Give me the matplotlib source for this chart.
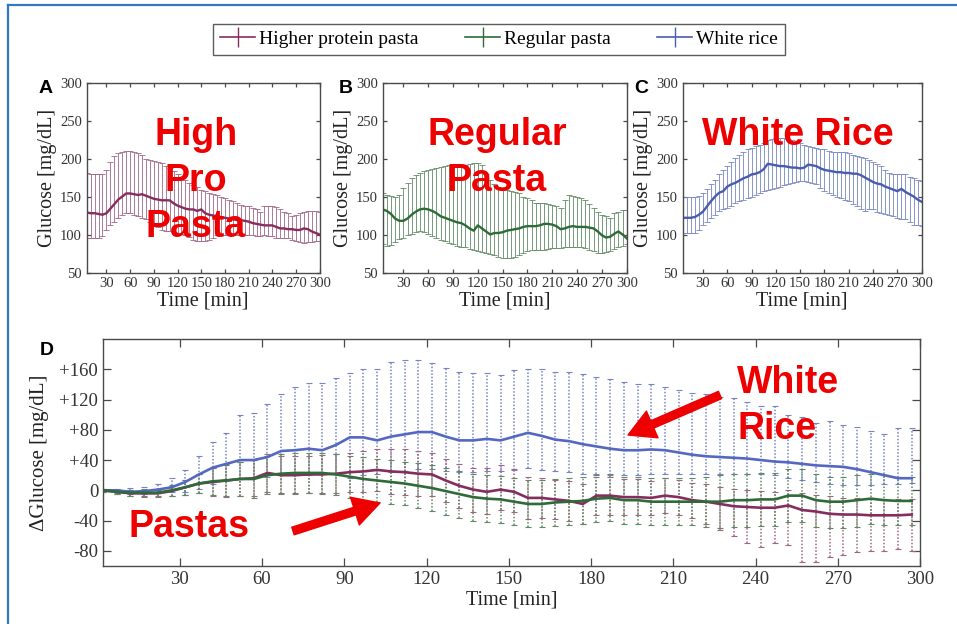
import numpy as np
import matplotlib.pyplot as plt
from matplotlib.lines import Line2D

# ---- glucose curves, panels A-C (mg/dL), sampled every 5 min from 5 to 300 ----
minutes = np.arange(5, 301, 5)

hp_mean = [129, 128, 128, 127, 126, 128, 134, 140, 146, 150,
           154, 154, 153, 152, 153, 151, 149, 147, 146, 145,
           145, 145, 141, 138, 136, 134, 133, 133, 131, 133,
           128, 126, 125, 124, 123, 122, 121, 120, 119, 119,
           118, 117, 115, 114, 113, 112, 112, 112, 110, 108,
           108, 107, 107, 106, 106, 108, 107, 104, 102, 100]
hp_hi = [181, 180, 180, 179, 179, 185, 195, 203, 207, 209,
         210, 210, 208, 207, 204, 200, 198, 197, 196, 194,
         190, 187, 183, 179, 175, 172, 168, 165, 162, 159,
         157, 155, 153, 152, 150, 148, 146, 144, 141, 139,
         138, 137, 135, 133, 130, 137, 138, 138, 136, 133,
         130, 128, 124, 126, 128, 130, 131, 131, 131, 130]
hp_lo = [96, 95, 95, 95, 98, 106, 112, 117, 122, 126,
         128, 128, 126, 124, 122, 120, 116, 113, 110, 106,
         105, 104, 103, 102, 101, 100, 97, 93, 92, 92,
         92, 93, 96, 100, 100, 100, 100, 100, 100, 100,
         100, 100, 99, 98, 98, 99, 98, 98, 96, 95,
         95, 95, 93, 91, 90, 89, 90, 90, 91, 92]

rp_mean = [133, 131, 127, 121, 118, 118, 121, 126, 130, 133,
           134, 133, 131, 128, 124, 122, 120, 118, 116, 115,
           112, 108, 105, 112, 108, 104, 100, 102, 102, 103,
           105, 106, 107, 108, 110, 111, 111, 111, 112, 114,
           114, 113, 111, 107, 108, 110, 111, 110, 110, 110,
           109, 108, 104, 99, 96, 97, 101, 104, 100, 95]
rp_hi = [155, 152, 151, 150, 152, 161, 168, 174, 178, 181,
         183, 185, 186, 187, 189, 190, 191, 191, 192, 192,
         192, 193, 194, 194, 191, 179, 172, 166, 163, 161,
         159, 157, 156, 155, 150, 148, 145, 142, 141, 141,
         140, 139, 137, 135, 145, 152, 151, 150, 148, 146,
         140, 135, 130, 126, 124, 122, 128, 130, 132, 132]
rp_lo = [87, 85, 86, 90, 94, 96, 99, 101, 103, 104,
         103, 101, 98, 95, 93, 91, 89, 87, 85, 84,
         83, 81, 80, 78, 77, 76, 74, 73, 71, 69,
         69, 69, 70, 73, 76, 78, 79, 80, 80, 80,
         81, 82, 82, 82, 83, 84, 84, 84, 83, 82,
         80, 78, 76, 76, 77, 78, 81, 84, 85, 87]

wr_mean = [122, 122, 122, 123, 126, 130, 137, 144, 150, 155,
           157, 163, 166, 168, 171, 174, 176, 179, 180, 182,
           186, 193, 192, 191, 190, 190, 189, 188, 188, 187,
           188, 192, 191, 190, 187, 185, 184, 183, 182, 182,
           181, 181, 180, 180, 178, 175, 172, 169, 167, 166,
           163, 161, 159, 157, 160, 156, 153, 150, 146, 143]
wr_hi = [150, 150, 150, 150, 151, 155, 160, 166, 172, 179,
         185, 190, 195, 201, 205, 209, 212, 214, 216, 218,
         221, 225, 226, 227, 227, 227, 226, 225, 222, 220,
         218, 216, 215, 214, 213, 212, 210, 209, 209, 209,
         208, 207, 205, 203, 202, 201, 198, 196, 193, 190,
         185, 181, 180, 179, 179, 179, 176, 174, 172, 170]
wr_lo = [102, 102, 102, 102, 106, 113, 117, 122, 126, 131,
         133, 135, 138, 141, 144, 146, 148, 150, 152, 155,
         157, 159, 160, 161, 163, 165, 166, 168, 169, 170,
         170, 169, 168, 166, 161, 157, 155, 152, 150, 148,
         146, 144, 140, 137, 134, 131, 133, 133, 130, 128,
         127, 126, 124, 122, 120, 120, 117, 113, 112, 111]

# ---- change from baseline, panel D (mg/dL), every 5 min from 2 to 297 ----
delta_minutes = np.arange(2, 300, 5)

d_wr_mean = [0, 0, -2, -1, 1, 4, 11, 21, 30, 35,
             40, 40, 44, 52, 53, 55, 53, 60, 70, 70,
             66, 71, 74, 77, 77, 71, 66, 66, 68, 66,
             71, 76, 72, 67, 65, 61, 58, 55, 53, 53,
             54, 53, 50, 47, 45, 44, 43, 42, 40, 38,
             37, 35, 33, 32, 31, 28, 24, 20, 16, 16]
d_wr_hi = [2, 2, 3, 4, 8, 16, 27, 46, 64, 76,
           100, 102, 114, 127, 137, 142, 142, 148, 155, 160,
           160, 170, 172, 172, 168, 162, 156, 155, 155, 153,
           159, 161, 160, 156, 156, 154, 150, 147, 143, 140,
           140, 137, 132, 128, 127, 124, 122, 117, 111, 111,
           100, 97, 89, 92, 86, 84, 78, 75, 83, 83]
d_wr_lo = [-2, -3, -5, -5, -4, -2, -2, 2, 9, 15,
           16, 16, 18, 20, 21, 20, 22, 22, 16, 20,
           22, 24, 26, 28, 28, 26, 24, 24, 26, 26,
           27, 30, 27, 25, 24, 22, 22, 20, 20, 20,
           22, 22, 22, 22, 22, 22, 22, 22, 22, 20,
           16, 14, 11, 9, 7, 7, 7, 8, 8, 10]

d_hp_mean = [0, -2, -4, -4, -4, -1, 4, 9, 11, 13,
             15, 16, 23, 20, 20, 21, 21, 22, 24, 25,
             27, 25, 24, 22, 21, 13, 6, 1, -2, 1,
             -2, -10, -10, -12, -14, -18, -7, -7, -9, -9,
             -10, -7, -9, -13, -15, -18, -21, -22, -23, -23,
             -20, -26, -28, -31, -32, -32, -33, -33, -33, -32]
d_hp_hi = [2, 1, 0, 0, 1, 6, 14, 22, 30, 35,
           38, 40, 48, 45, 45, 46, 47, 48, 50, 52,
           55, 55, 54, 52, 50, 42, 35, 30, 30, 33,
           28, 18, 16, 14, 12, 8, 18, 18, 15, 15,
           12, 16, 14, 10, 8, 5, 2, 0, -1, -2,
           0, -4, -6, -8, -10, -10, -10, -12, -12, -12]
d_hp_lo = [-2, -5, -8, -9, -9, -8, -6, -4, -8, -9,
           -8, -8, -2, -5, -5, -4, -5, -4, -2, -2,
           -1, -5, -6, -8, -8, -16, -23, -28, -31, -26,
           -29, -38, -36, -38, -40, -44, -32, -32, -33, -33,
           -32, -30, -32, -36, -45, -52, -60, -70, -75, -70,
           -72, -95, -95, -88, -85, -82, -80, -80, -78, -80]

d_rp_mean = [0, -2, -3, -3, -3, 0, 4, 9, 12, 13,
             15, 15, 20, 22, 23, 23, 23, 21, 18, 15,
             13, 11, 9, 6, 3, -1, -5, -9, -11, -12,
             -15, -18, -18, -16, -15, -14, -11, -10, -13, -13,
             -15, -15, -15, -15, -15, -15, -13, -13, -12, -12,
             -7, -7, -13, -15, -15, -13, -11, -13, -14, -14]
d_rp_hi = [2, 1, 1, 2, 2, 7, 14, 22, 30, 34,
           38, 40, 45, 48, 50, 50, 50, 48, 46, 44,
           42, 40, 38, 36, 33, 30, 26, 22, 20, 19,
           16, 13, 13, 15, 16, 17, 20, 21, 18, 18,
           16, 16, 16, 16, 18, 20, 22, 22, 23, 23,
           28, 28, 22, 18, 18, 20, 22, 20, 18, 18]
d_rp_lo = [-2, -5, -7, -8, -8, -7, -6, -4, -6, -8,
           -8, -10, -5, -4, -4, -4, -4, -6, -10, -14,
           -16, -18, -20, -24, -27, -32, -36, -40, -42, -43,
           -46, -49, -49, -47, -46, -45, -42, -41, -44, -44,
           -46, -46, -46, -46, -48, -50, -48, -48, -47, -47,
           -42, -42, -48, -50, -50, -48, -44, -46, -46, -46]

series_names = ["Higher protein pasta", "Regular pasta", "White rice"]
line_colors = ["#862d5f", "#2f6b38", "#4a5cae"]
bar_colors = ["#a06585", "#5f8a64", "#7584c4"]

small_xticks = [30, 60, 90, 120, 150, 180, 210, 240, 270, 300]
small_yticks = [50, 100, 150, 200, 250, 300]
d_yticks = [-80, -40, 0, 40, 80, 120, 160]
d_yticklabels = ["-80", "-40", "0", "+40", "+80", "+120", "+160"]
d_xticks = [30, 60, 90, 120, 150, 180, 210, 240, 270, 300]

plt.rcParams["font.family"] = ["Liberation Serif", "DejaVu Serif"]
W, H = 957, 624
fig = plt.figure(figsize=(W / 100, H / 100), dpi=100)
fig.patch.set_facecolor("white")


def px_axes(left, top, right, bottom):
    return fig.add_axes([left / W, 1 - bottom / H, (right - left) / W, (bottom - top) / H])


def style_axes(ax, ticklen, fs):
    for s in ax.spines.values():
        s.set_color("#4a4a4a")
        s.set_linewidth(1.0)
    ax.tick_params(direction="in", top=True, right=True, length=ticklen,
                   width=0.9, color="#4a4a4a", labelsize=fs, labelcolor="#333333")


def asym(mean, lo, hi):
    m = np.array(mean, float)
    return m, [m - np.array(lo, float), np.array(hi, float) - m]


small = [(86.7, 382.7, 682.7), (319.7, 626.7, 921.7)]
letter_x = [-0.145, -0.122, -0.145]
panel_data = [(hp_mean, hp_lo, hp_hi), (rp_mean, rp_lo, rp_hi), (wr_mean, wr_lo, wr_hi)]
for i, (mean, lo, hi) in enumerate(panel_data):
    ax = px_axes(small[0][i], 82.5, small[1][i], 272.5)
    m, err = asym(mean, lo, hi)
    ax.errorbar(minutes, m, yerr=err, color=line_colors[i], ecolor=bar_colors[i],
                elinewidth=0.6, capsize=2, capthick=0.6, lw=1.7)
    ax.set_xlim(5, 300)
    ax.set_ylim(50, 300)
    ax.set_xticks(small_xticks)
    ax.set_yticks(small_yticks)
    style_axes(ax, 3, 10.5)
    ax.tick_params(axis="x", pad=3)
    ax.set_xlabel("Time [min]", fontsize=14.5, color="#222222", labelpad=1)
    ax.set_ylabel("Glucose [mg/dL]", fontsize=14.5, color="#222222", labelpad=2)
    ax.text(letter_x[i], 0.97, "ABC"[i], transform=ax.transAxes,
            family="Liberation Sans", weight="bold", fontsize=14, va="center", ha="right")

# big red labels on the small panels
ann = dict(family="Liberation Sans", weight="bold", color="#ee0000", fontsize=27,
           ha="center", va="center", linespacing=1.35)
fig.text(196 / W, 1 - 181 / H, "High\nPro\nPasta", **ann)
fig.text(497 / W, 1 - 158 / H, "Regular\nPasta", **ann)
fig.text(798 / W, 1 - 135 / H, "White Rice", **ann)

# ---- panel D ----
axd = px_axes(103, 339, 920, 566)
d_sets = [(d_hp_mean, d_hp_lo, d_hp_hi), (d_rp_mean, d_rp_lo, d_rp_hi),
          (d_wr_mean, d_wr_lo, d_wr_hi)]
for i in [2, 0, 1]:
    mean, lo, hi = d_sets[i]
    m, err = asym(mean, lo, hi)
    cont = axd.errorbar(delta_minutes, m, yerr=err, fmt="none", ecolor=bar_colors[i],
                        elinewidth=1.1, capsize=2, capthick=0.8)
    for lc in cont[2]:
        lc.set_linestyle((0, (1, 1.2)))
for i in [2, 0, 1]:
    axd.plot(delta_minutes, d_sets[i][0], color=line_colors[i] if i < 2 else "#5468c2", lw=1.9)

axd.set_xlim(2, 300)
axd.set_ylim(-100, 200)
axd.set_xticks(d_xticks)
axd.set_yticks(d_yticks)
axd.set_yticklabels(d_yticklabels)
style_axes(axd, 6, 13.5)
axd.set_xlabel("Time [min]", fontsize=14.5, color="#222222", labelpad=2)
axd.set_ylabel("\u0394Glucose [mg/dL]", fontsize=15, color="#222222", labelpad=0)
axd.yaxis.set_label_coords(-0.066, 0.5)
axd.text(-0.069, 0.95, "D", transform=axd.transAxes, family="Liberation Sans",
         weight="bold", fontsize=14, va="center", ha="center")

fig.text(189 / W, 1 - 527 / H, "Pastas", **ann)
fig.text(737 / W, 1 - 406 / H, "White\nRice", family="Liberation Sans", weight="bold",
         color="#ee0000", fontsize=27, ha="left", va="center", linespacing=1.35)

arrow = dict(arrowstyle="simple,head_width=1.1,head_length=1.0,tail_width=0.3",
             mutation_scale=19, color="#ee0000", shrinkA=0, shrinkB=0)
axd.annotate("", xy=(380 / W, 1 - 503 / H), xytext=(293 / W, 1 - 531 / H),
             xycoords="figure fraction", textcoords="figure fraction", arrowprops=arrow)
axd.annotate("", xy=(628 / W, 1 - 435 / H), xytext=(720 / W, 1 - 395 / H),
             xycoords="figure fraction", textcoords="figure fraction", arrowprops=arrow)

# shared legend across the top, with a cross-shaped key like an error bar
keys = [Line2D([], [], color=c, lw=1.2, marker="|", markersize=15, markeredgewidth=1.0)
        for c in line_colors]
leg = fig.legend(keys, series_names, loc="center", bbox_to_anchor=(499 / W, 1 - 39.5 / H),
                 ncol=3, fontsize=14, frameon=True, fancybox=False, handlelength=1.8,
                 handletextpad=0.2, columnspacing=2.4, borderpad=0.35, borderaxespad=0)
leg.get_frame().set_edgecolor("#333333")
leg.get_frame().set_linewidth(1.0)

# thin blue frame around the figure
frame = "#2f78c4"
fig.add_artist(Line2D([8 / W, 8 / W], [0, 1 - 5 / H], color=frame, lw=1.6))
fig.add_artist(Line2D([8 / W, 1], [1 - 5 / H, 1 - 5 / H], color=frame, lw=1.6))

fig.savefig("out.png", dpi=100)
